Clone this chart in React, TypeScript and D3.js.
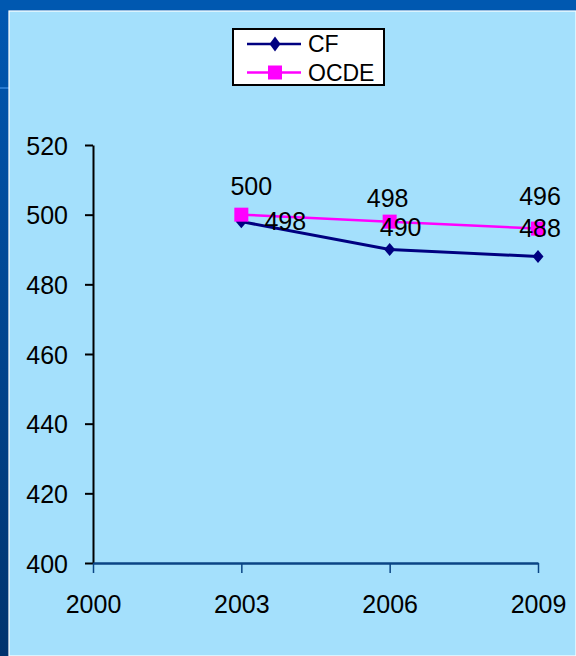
import { useEffect, useRef } from "react";
import * as d3 from "d3";

// data
const years = [2003, 2006, 2009];
const cfValues = [498, 490, 488];
const ocdeValues = [500, 498, 496];
const seriesNames = ["CF", "OCDE"];
const xTicks = [2000, 2003, 2006, 2009];
const yTicks = [400, 420, 440, 460, 480, 500, 520];

// label nudges relative to each point (px)
const cfLabelOffsets: [number, number][] = [[44, 8], [11, -14], [2, -19]];
const ocdeLabelOffsets: [number, number][] = [[10, -20], [-2, -15], [2, -24]];

const FONT = "'Liberation Sans', Arial, sans-serif";

// diamond marker with its own width/height
const diamondPath = (hw: number, hh: number) => {
    const p = d3.path();
    p.moveTo(0, -hh);
    p.lineTo(hw, 0);
    p.lineTo(0, hh);
    p.lineTo(-hw, 0);
    p.closePath();
    return p.toString();
};

export default function App() {
    const svgRef = useRef<SVGSVGElement | null>(null);

    useEffect(() => {
        if (!svgRef.current) return;
        const width = 576;
        const height = 656;
        const svg = d3.select(svgRef.current);
        svg.selectAll("*").remove();

        // slide background
        const defs = svg.append("defs");
        const grad = defs.append("linearGradient")
            .attr("id", "edge").attr("x1", 0).attr("y1", 0).attr("x2", 0).attr("y2", 1);
        grad.append("stop").attr("offset", "0%").attr("stop-color", "#0057b2");
        grad.append("stop").attr("offset", "100%").attr("stop-color", "#00336e");
        svg.append("rect").attr("width", width).attr("height", height).attr("fill", "url(#edge)");
        svg.append("rect").attr("width", width).attr("height", 11).attr("fill", "#0058b0");
        svg.append("line").attr("x1", 0).attr("x2", 9).attr("y1", 88).attr("y2", 88)
            .attr("stroke", "#2a7ad0").attr("stroke-width", 2);
        svg.append("rect").attr("x", 9).attr("y", 11).attr("width", width - 9).attr("height", height - 11)
            .attr("fill", "#a4e0fc").attr("stroke", "#ffffff").attr("stroke-width", 1.2);

        const x = d3.scaleLinear().domain([2000, 2009]).range([93, 538]);
        const y = d3.scaleLinear().domain([400, 520]).range([563, 145]);

        // y axis
        const yAxis = svg.append("g")
            .attr("transform", "translate(93,0)")
            .call(d3.axisLeft(y).tickValues(yTicks).tickSize(8).tickPadding(17).tickSizeOuter(0));
        yAxis.select(".domain").attr("stroke", "#000").attr("stroke-width", 2);
        yAxis.selectAll(".tick line").attr("stroke", "#000").attr("stroke-width", 2);
        yAxis.selectAll(".tick text")
            .attr("font-family", FONT).attr("font-size", 25).attr("fill", "#000").attr("dy", "0.36em");

        // x axis
        const xAxis = svg.append("g")
            .attr("transform", `translate(0,${y(400)})`)
            .call(d3.axisBottom(x).tickValues(xTicks).tickFormat(d3.format("d")).tickSize(10).tickPadding(22).tickSizeOuter(0));
        xAxis.select(".domain").attr("stroke", "#0b4585").attr("stroke-width", 2.5);
        xAxis.selectAll(".tick line").attr("stroke", "#0b4585").attr("stroke-width", 1.5);
        xAxis.selectAll(".tick text")
            .attr("font-family", FONT).attr("font-size", 25).attr("fill", "#000");

        const line = d3.line<number>()
            .x((_, i) => x(years[i]))
            .y(d => y(d));

        // CF series
        svg.append("path").datum(cfValues)
            .attr("fill", "none").attr("stroke", "#000080").attr("stroke-width", 3)
            .attr("d", line);
        svg.append("g").selectAll("path").data(cfValues).join("path")
            .attr("transform", (d, i) => `translate(${x(years[i])},${y(d)})`)
            .attr("d", diamondPath(5.5, 6.5))
            .attr("fill", "#000080");

        // OCDE series (drawn over CF)
        svg.append("path").datum(ocdeValues)
            .attr("fill", "none").attr("stroke", "#ff00ff").attr("stroke-width", 2.5)
            .attr("d", line);
        svg.append("g").selectAll("rect").data(ocdeValues).join("rect")
            .attr("x", (_, i) => x(years[i]) - 7)
            .attr("y", d => y(d) - 7)
            .attr("width", 14).attr("height", 14)
            .attr("fill", "#ff00ff");

        // data labels
        const labels = svg.append("g")
            .attr("font-family", FONT).attr("font-size", 25).attr("fill", "#000").attr("text-anchor", "middle");
        labels.selectAll("text.ocde").data(ocdeValues).join("text").attr("class", "ocde")
            .attr("x", (_, i) => x(years[i]) + ocdeLabelOffsets[i][0])
            .attr("y", (d, i) => y(d) + ocdeLabelOffsets[i][1])
            .text(d => d);
        labels.selectAll("text.cf").data(cfValues).join("text").attr("class", "cf")
            .attr("x", (_, i) => x(years[i]) + cfLabelOffsets[i][0])
            .attr("y", (d, i) => y(d) + cfLabelOffsets[i][1])
            .text(d => d);

        // legend
        const legend = svg.append("g").attr("transform", "translate(233,29)");
        legend.append("rect").attr("width", 151).attr("height", 56)
            .attr("fill", "#fff").attr("stroke", "#000").attr("stroke-width", 2);
        const colors = ["#000080", "#ff00ff"];
        seriesNames.forEach((name, i) => {
            const ly = 15 + i * 28.5;
            legend.append("line").attr("x1", 14).attr("x2", 68).attr("y1", ly).attr("y2", ly)
                .attr("stroke", colors[i]).attr("stroke-width", 2.5);
            if (i === 0) {
                legend.append("path").attr("d", diamondPath(5.5, 7.5))
                    .attr("transform", `translate(42,${ly})`)
                    .attr("fill", colors[i]);
            } else {
                legend.append("rect").attr("x", 35).attr("y", ly - 7).attr("width", 14).attr("height", 14)
                    .attr("fill", colors[i]);
            }
            legend.append("text").attr("x", 75).attr("y", ly + 8)
                .attr("font-family", FONT).attr("font-size", 23).attr("fill", "#000")
                .text(name);
        });
    }, []);

    return (
        <svg ref={svgRef} width={576} height={656}
            style={{ position: "absolute", left: 0, top: 0, display: "block" }} />
    );
}
